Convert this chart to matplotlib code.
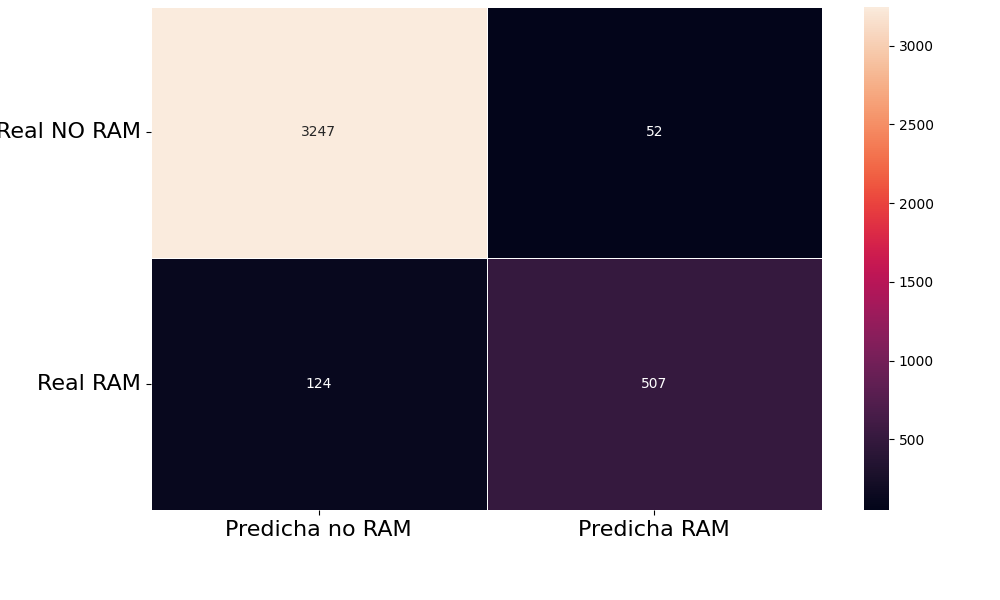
import matplotlib
matplotlib.use("Agg")
import matplotlib.pyplot as plt
import seaborn as sns
import numpy as np

# confusion matrix values
row_labels = ["Real NO RAM", "Real RAM"]
col_labels = ["Predicha no RAM", "Predicha RAM"]
cm = np.array([[3247, 52],
               [124, 507]])

fig = plt.figure(figsize=(10, 6), dpi=100)
ax = fig.add_axes([0.151, 0.15, 0.671, 0.839])
cax = fig.add_axes([0.864, 0.15, 0.025, 0.839])

sns.heatmap(cm, annot=True, fmt="d", linewidths=0.5, linecolor="white",
            xticklabels=col_labels, yticklabels=row_labels, ax=ax, cbar_ax=cax)

ax.set_xticklabels(col_labels, fontsize=16)
ax.set_yticklabels(row_labels, fontsize=16, rotation=0)

fig.savefig("out.png", dpi=100)
